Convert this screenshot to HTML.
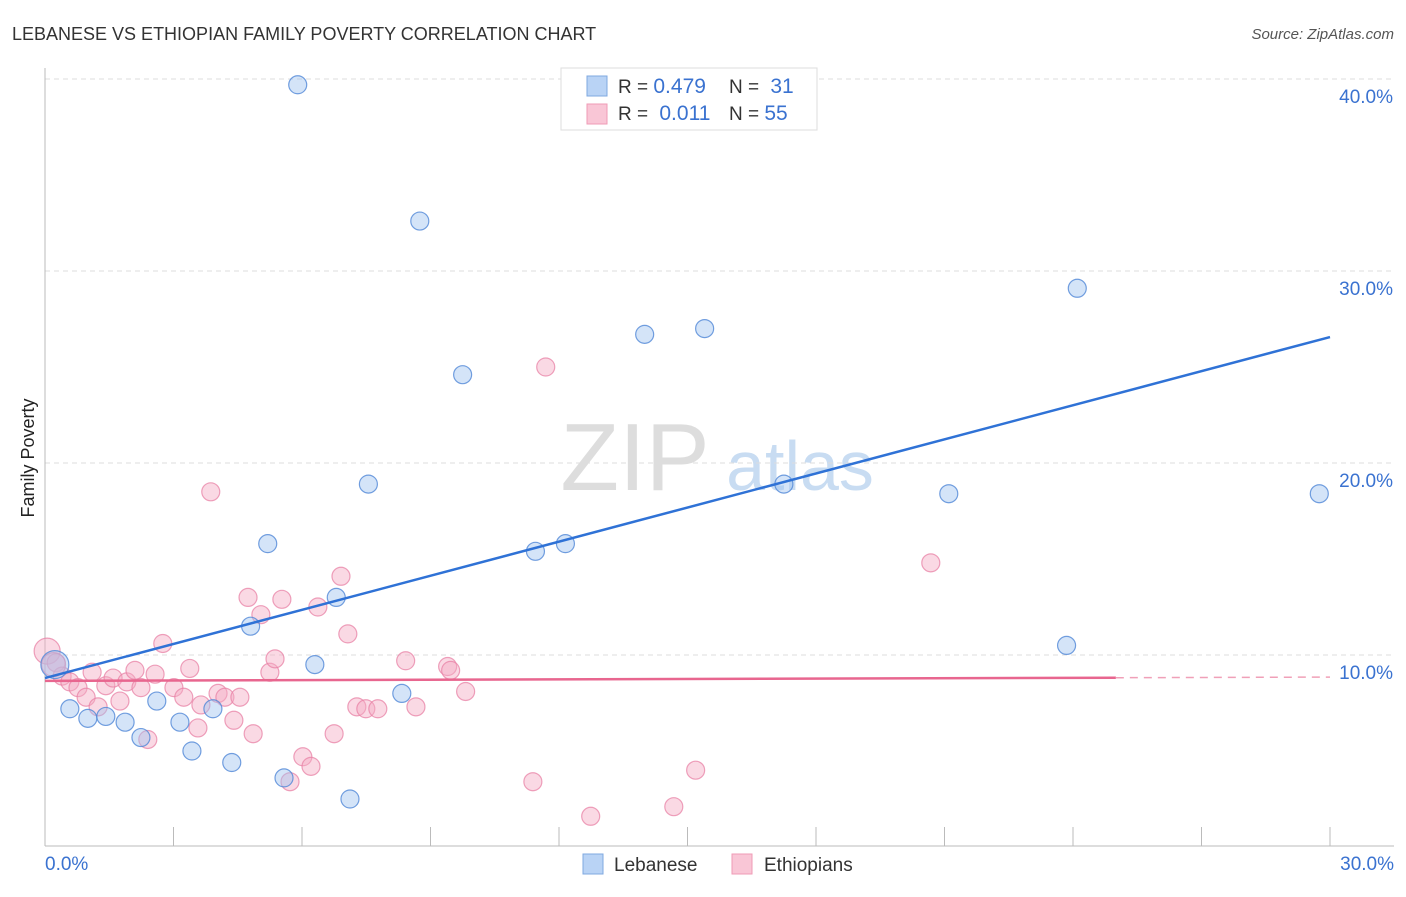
<!DOCTYPE html>
<html><head><meta charset="utf-8"><style>
body{margin:0;background:#fff;font-family:"Liberation Sans",sans-serif;}
svg text{font-family:"Liberation Sans",sans-serif;}
</style></head><body>
<svg id="chart" width="1406" height="892">
<text x="12" y="40" font-size="18" fill="#333">LEBANESE VS ETHIOPIAN FAMILY POVERTY CORRELATION CHART</text>
<text x="1394" y="39" font-size="15" fill="#555" text-anchor="end" font-style="italic">Source: ZipAtlas.com</text>
<text x="34" y="458" font-size="18" fill="#222" text-anchor="middle" transform="rotate(-90 34 458)">Family Poverty</text>
<g><text x="635" y="490" font-size="96" fill="#ddd" font-family="Liberation Serif" text-anchor="middle">ZIP</text><text x="800" y="490" font-size="70" fill="#c8dcf2" text-anchor="middle">atlas</text></g>
<g id="grid"></g><g id="axes"></g><g id="pts"></g><g id="lines"></g>
<g>
<rect x="561" y="68" width="256" height="62" fill="#fff" stroke="#ddd"/>
<rect x="587" y="76" width="20" height="20" fill="#b9d3f5" stroke="#7fa8e0"/>
<rect x="587" y="104" width="20" height="20" fill="#f9c6d6" stroke="#ef9bb6"/>
<text x="618" y="93" font-size="19" fill="#333">R = <tspan fill="#3a72d0" font-size="21">0.479</tspan></text>
<text x="729" y="93" font-size="19" fill="#333">N = <tspan fill="#3a72d0" font-size="21" dx="6">31</tspan></text>
<text x="618" y="120" font-size="19" fill="#333">R = <tspan fill="#3a72d0" font-size="21" dx="6">0.011</tspan></text>
<text x="729" y="120" font-size="19" fill="#333">N = <tspan fill="#3a72d0" font-size="21">55</tspan></text>
</g>
<g>
<rect x="583" y="854" width="20" height="20" fill="#b9d3f5" stroke="#7fa8e0"/>
<text x="614" y="871" font-size="19" fill="#333">Lebanese</text>
<rect x="732" y="854" width="20" height="20" fill="#f9c6d6" stroke="#ef9bb6"/>
<text x="764" y="871" font-size="19" fill="#333">Ethiopians</text>
</g>
</svg>
<script>
const blueX=[5.9,8.75,9.75,14,15.4,24.1,7.55,5.2,11.45,12.15,17.25,21.1,29.75,6.8,4.8,6.3,23.85,0.23,0.58,1,1.42,1.87,2.61,2.24,3.15,3.43,3.92,4.36,5.58,7.12,8.33];
const blueY=[39.7,32.6,24.6,26.7,27,29.1,18.9,15.8,15.4,15.8,18.9,18.4,18.4,13,11.5,9.5,10.5,9.5,7.2,6.7,6.8,6.5,7.6,5.7,6.5,5,7.2,4.4,3.6,2.5,8];
const pinkX=[0.05,0.26,0.4,0.58,0.77,0.96,1.1,1.24,1.42,1.59,1.75,1.91,2.1,2.24,2.4,2.57,2.75,3.01,3.24,3.38,3.57,3.64,3.87,4.04,4.2,4.41,4.55,4.74,4.86,5.04,5.25,5.37,5.53,5.72,6.02,6.21,6.37,6.75,6.91,7.07,7.28,7.49,7.77,8.42,8.66,9.4,9.47,9.82,11.39,11.69,12.74,14.68,15.19,20.68,0.2];
const pinkY=[10.2,9.6,8.9,8.6,8.3,7.8,9.1,7.3,8.4,8.8,7.6,8.6,9.2,8.3,5.6,9,10.6,8.3,7.8,9.3,6.2,7.4,18.5,8,7.8,6.6,7.8,13,5.9,12.1,9.1,9.8,12.9,3.4,4.7,4.2,12.5,5.9,14.1,11.1,7.3,7.2,7.2,9.7,7.3,9.4,9.2,8.1,3.4,25,1.6,2.1,4,14.8,9.5];
const yTicks=[10,20,30,40];
const yTickLabels=["10.0%","20.0%","30.0%","40.0%"];
const blueTrend=[8.8,26.56];
const pinkTrend=[8.65,8.85];
const NS="http://www.w3.org/2000/svg";
const X=v=>45+v/30*1285, Y=v=>847-v*19.2;
function mk(tag,attrs,parent){const e=document.createElementNS(NS,tag);for(const k in attrs)e.setAttribute(k,attrs[k]);document.getElementById(parent).appendChild(e);return e;}
yTicks.forEach((t,i)=>{
 const g=mk('line',{x1:45,x2:1394,y1:Y(t),y2:Y(t),stroke:'#ddd','stroke-dasharray':'5,4'},'grid');
 
 
 const l=mk('text',{x:1393,y:Y(t)+24,'font-size':19,fill:'#3a72d0','text-anchor':'end'},'axes');l.textContent=yTickLabels[i];
 
 
});
mk('line',{x1:45,x2:45,y1:68,y2:846,stroke:'#bbb'},'axes');
mk('line',{x1:45,x2:1394,y1:846,y2:846,stroke:'#bbb'},'axes');
for(let i=1;i<=10;i++){const x=X(i*3);mk('line',{x1:x,x2:x,y1:827,y2:846,stroke:'#bbb'},'axes');}
const a=mk('text',{x:45,y:870,'font-size':19,fill:'#3a72d0'},'axes');a.textContent='0.0%';


const b=mk('text',{x:1394,y:870,'font-size':19,fill:'#3a72d0','text-anchor':'end'},'axes');b.textContent='30.0%';


pinkX.forEach((x,i)=>{const r=i==0?13:(i==54?12:9);const c=mk('circle',{cx:X(x),cy:Y(pinkY[i]),r:r,fill:'rgba(245,170,195,0.45)',stroke:'rgba(232,130,165,0.75)','stroke-width':1.2},'pts');
 
 });
blueX.forEach((x,i)=>{const r=i==17?14:9;const c=mk('circle',{cx:X(x),cy:Y(blueY[i]),r:r,fill:'rgba(160,195,240,0.45)',stroke:'rgba(80,135,215,0.8)','stroke-width':1.2},'pts');
 
 });
const bl=mk('line',{x1:X(0),y1:Y(blueTrend[0]),x2:X(30),y2:Y(blueTrend[1]),stroke:'#2f72d6','stroke-width':2.5},'lines');


const pm=pinkTrend[0]+(pinkTrend[1]-pinkTrend[0])*25/30;
const pl=mk('line',{x1:X(0),y1:Y(pinkTrend[0]),x2:X(25),y2:Y(pm),stroke:'#e8668f','stroke-width':2.5},'lines');


const pd=mk('line',{x1:X(25),y1:Y(pm),x2:X(30),y2:Y(pinkTrend[1]),stroke:'#f0a0b8','stroke-width':1.5,'stroke-dasharray':'8,6'},'lines');


</script>
</body></html>
